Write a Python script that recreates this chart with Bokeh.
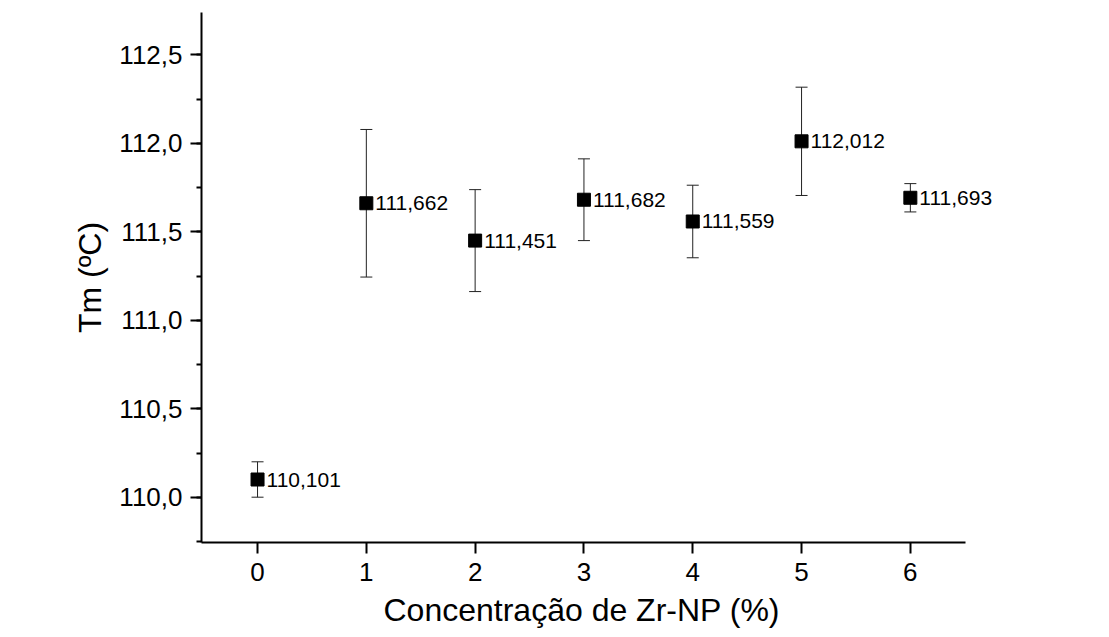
from bokeh.plotting import figure
from bokeh.models import ColumnDataSource, Whisker, TeeHead, SingleIntervalTicker, FixedTicker, CustomJSTickFormatter, Range1d, Title
from bokeh.core.properties import value
from bokeh.embed import file_html
from bokeh.resources import INLINE

conc = [0, 1, 2, 3, 4, 5, 6]
tm = [110.101, 111.662, 111.451, 111.682, 111.559, 112.012, 111.693]
err = [0.10, 0.417, 0.288, 0.231, 0.205, 0.306, 0.080]
labels = ["110,101", "111,662", "111,451", "111,682", "111,559", "112,012", "111,693"]
x_ticks = [0, 1, 2, 3, 4, 5, 6]
x_title = "Concentração de Zr-NP (%)"
y_title = "Tm (ºC)"

FONT = "Liberation Sans"
X_LO, X_HI = -0.515, 6.51

src = ColumnDataSource(dict(
    x=conc, y=tm,
    upper=[t + e for t, e in zip(tm, err)],
    lower=[t - e for t, e in zip(tm, err)],
    label=labels,
))

p = figure(width=1109, height=637, output_backend="svg", toolbar_location=None,
           x_range=Range1d(X_LO, 7.38), y_range=Range1d(109.745, 112.74),
           min_border_left=201, min_border_right=49, min_border_top=12, min_border_bottom=95)
p.outline_line_color = None
p.xgrid.visible = False
p.ygrid.visible = False
p.background_fill_color = "white"
p.border_fill_color = "white"

w = Whisker(source=src, base="x", upper="upper", lower="lower",
            line_color="#222222", line_width=1,
            upper_head=TeeHead(size=12, line_color="#222222", line_width=1),
            lower_head=TeeHead(size=12, line_color="#222222", line_width=1))
p.add_layout(w)

p.scatter(x="x", y="y", source=src, marker="square", size=13, color="black")
p.text(x="x", y="y", text="label", source=src, x_offset=9, text_baseline="middle",
       text_font=value(FONT), text_font_size="21px", text_color="black")

for ax in (p.xaxis[0], p.yaxis[0]):
    ax.axis_line_width = 2
    ax.major_tick_line_width = 2
    ax.minor_tick_line_width = 2
    ax.major_tick_out = 11
    ax.major_tick_in = 0
    ax.minor_tick_out = 5
    ax.minor_tick_in = 0
    ax.major_label_text_font = FONT
    ax.major_label_text_font_size = "26px"
    ax.major_label_text_color = "black"
    ax.axis_label_text_font = FONT
    ax.axis_label_text_font_size = "32px"
    ax.axis_label_text_font_style = "normal"
    ax.axis_label_text_color = "black"

p.xaxis.bounds = (X_LO, X_HI)
p.xaxis.ticker = FixedTicker(ticks=x_ticks)
p.xaxis.minor_tick_line_color = None
p.xaxis.major_label_standoff = 9

xt = Title(text=x_title, align="left", offset=182, text_font=FONT, text_font_size="32px",
           text_font_style="normal", text_color="black", standoff=13)
p.add_layout(xt, "below")

p.yaxis.ticker = SingleIntervalTicker(interval=0.5, num_minor_ticks=2)
p.yaxis.formatter = CustomJSTickFormatter(code="return tick.toFixed(1).replace('.', ',');")
p.yaxis.major_label_standoff = 8
p.yaxis.axis_label = y_title
p.yaxis.axis_label_standoff = 8

open("out.html", "w").write(file_html(p, INLINE))
